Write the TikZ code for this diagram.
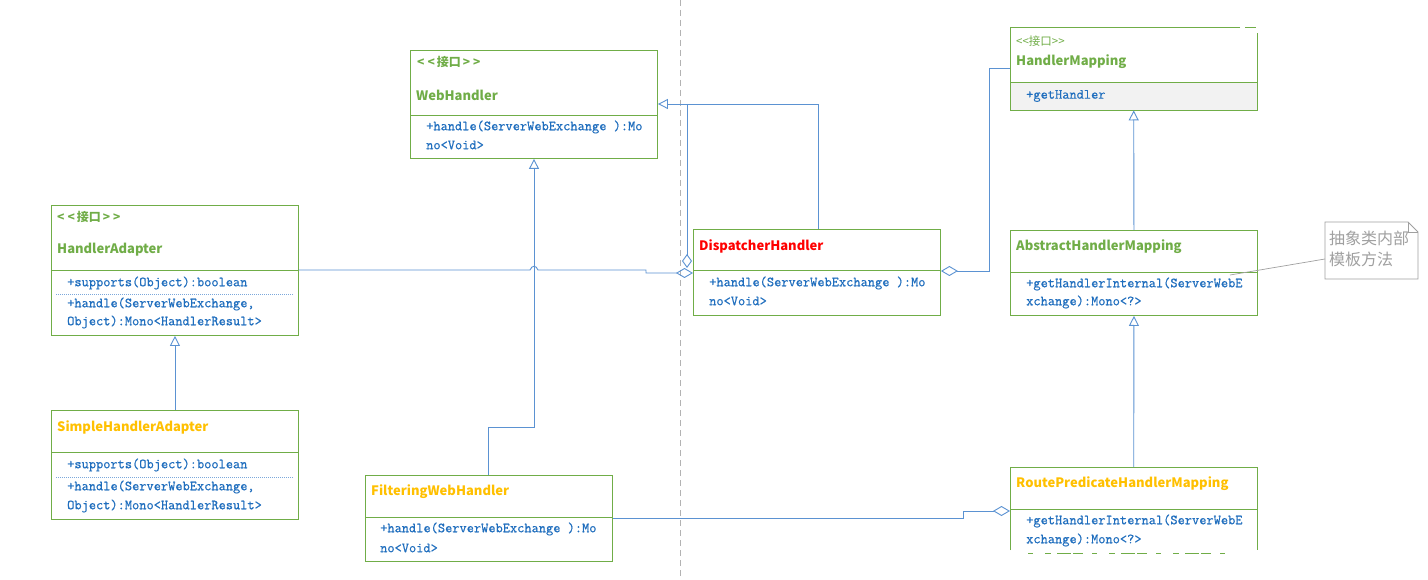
\documentclass[tikz,border=0pt]{standalone}
\usepackage{fontspec}
\newfontfamily\yh{Noto Sans CJK SC}
\newfontfamily\mymono{Latin Modern Mono}[FakeBold=0.6]
\usetikzlibrary{arrows.meta,calc}
\definecolor{gr}{RGB}{112,173,71}
\definecolor{org}{RGB}{255,192,0}
\definecolor{mblue}{RGB}{31,110,190}
\definecolor{cblue}{RGB}{91,146,210}
\definecolor{notegray}{RGB}{160,160,160}
\definecolor{fill2}{RGB}{242,242,242}
\begin{document}
\begin{tikzpicture}[x=1pt,y=-1pt,
  box/.style={draw=gr,line width=0.9pt,anchor=north west,inner sep=0pt},
  ghost/.style={anchor=north west,inner sep=0pt},
  stereo/.style={anchor=west,inner sep=0pt,text=gr,font=\yh\bfseries\fontsize{12}{12}\selectfont},
  ttl/.style={anchor=west,inner sep=0pt,font=\yh\bfseries\fontsize{13}{13}\selectfont},
  meth/.style={anchor=west,inner sep=0pt,text=mblue,font=\mymono\fontsize{14}{14}\selectfont},
  divider/.style={draw=gr,line width=0.9pt},
  dotsep/.style={draw=cblue!80,line width=0.5pt,dash pattern=on 1pt off 1pt},
  conn/.style={draw=cblue,line width=0.9pt},
  gen/.style={conn,-{Triangle[open,length=10pt,width=10pt]}},
  agg/.style={conn,{Diamond[open,length=17pt,width=10pt]}-}
]
\useasboundingbox (0,0) rectangle (1428,580);
\fill[white] (0,0) rectangle (1428,580);

% dashed separator
\draw[notegray!80,line width=0.8pt,dash pattern=on 6pt off 4pt] (680,0) -- (680,580);

% ---------- boxes ----------
\node[box,minimum width=247pt,minimum height=108pt] (wh) at (410,50) {};
\draw[divider] (410,115) -- (657,115);
\node[stereo] (whs) at (417,62) {<\hspace{3pt}<\hspace{2pt}接口\hspace{2pt}>\hspace{3pt}>};
\node[ttl,text=gr] (wht) at (416,95) {WebHandler};
\node[meth] (whm1) at (426,127) {+handle(ServerWebExchange ):Mo};
\node[meth] (whm2) at (426,145) {no<Void>};

% HandlerMapping
\node[ghost,minimum width=247pt,minimum height=83pt] (hm) at (1010,27) {};
\fill[fill2] (1010,82) rectangle (1257,110);
\draw[gr,line width=0.9pt] (1240,27) -- (1010,27) -- (1010,110) -- (1257,110) -- (1257,33);
\draw[gr,line width=0.9pt] (1245,27) -- (1256,27);
\draw[divider] (1010,82) -- (1257,82);
\node[anchor=west,inner sep=0pt,text=gr,font=\yh\fontsize{11.5}{12}\selectfont] (hms) at (1016,41) {<<接口>>};
\node[ttl,text=gr] (hmt) at (1016,62) {HandlerMapping};
\node[meth] (hmm) at (1026,96) {+getHandler};

% HandlerAdapter
\node[box,minimum width=247pt,minimum height=130pt] (ha) at (51,205) {};
\draw[divider] (51,270) -- (298,270);
\node[stereo] (has) at (57,217) {<\hspace{3pt}<\hspace{2pt}接口\hspace{2pt}>\hspace{3pt}>};
\node[ttl,text=gr] (hat) at (57,250) {HandlerAdapter};
\node[meth] (ham1) at (67,283) {+supports(Object):boolean};
\draw[dotsep] (56,294) -- (294,294);
\node[meth] (ham2) at (67,304) {+handle(ServerWebExchange,};
\node[meth] (ham3) at (67,322) {Object):Mono<HandlerResult>};

% SimpleHandlerAdapter
\node[box,minimum width=247pt,minimum height=109pt] (sha) at (51,410) {};
\draw[divider] (51,452) -- (298,452);
\node[ttl,text=org] (shat) at (57,427) {SimpleHandlerAdapter};
\node[meth] (sham1) at (67,465) {+supports(Object):boolean};
\draw[dotsep] (56,477) -- (294,477);
\node[meth] (sham2) at (67,487) {+handle(ServerWebExchange,};
\node[meth] (sham3) at (67,506) {Object):Mono<HandlerResult>};

% FilteringWebHandler
\node[box,minimum width=247pt,minimum height=86pt] (fwh) at (365,475) {};
\draw[divider] (365,517) -- (612,517);
\node[ttl,text=org] (fwht) at (371,492) {FilteringWebHandler};
\node[meth] (fwhm1) at (380,529) {+handle(ServerWebExchange ):Mo};
\node[meth] (fwhm2) at (380,548) {no<Void>};

% DispatcherHandler
\node[box,minimum width=247pt,minimum height=86pt] (dh) at (693,229) {};
\draw[divider] (693,270) -- (940,270);
\node[ttl,text=red] (dht) at (699,246) {DispatcherHandler};
\node[meth] (dhm1) at (709,283) {+handle(ServerWebExchange ):Mo};
\node[meth] (dhm2) at (709,301) {no<Void>};

% AbstractHandlerMapping
\node[box,minimum width=247pt,minimum height=85pt] (ahm) at (1010,230) {};
\draw[divider] (1010,272) -- (1257,272);
\node[ttl,text=gr] (ahmt) at (1016,247) {AbstractHandlerMapping};
\node[meth] (ahmm1) at (1026,284) {+getHandlerInternal(ServerWebE};
\node[meth] (ahmm2) at (1026,302) {xchange):Mono<?>};

% RoutePredicateHandlerMapping (cut off)
\node[ghost,minimum width=247pt,minimum height=83pt] (rp) at (1010,467) {};
\draw[gr,line width=0.9pt] (1010,550) -- (1010,467) -- (1257,467) -- (1257,550);
\draw[divider] (1010,509) -- (1257,509);
\node[ttl,text=org] (rpt) at (1016,484) {RoutePredicateHandlerMapping};
\node[meth] (rpm1) at (1026,521) {+getHandlerInternal(ServerWebE};
\node[meth] (rpm2) at (1026,540) {xchange):Mono<?>};
\draw[gr,line width=1pt,dash pattern=on 5pt off 12pt on 6pt off 6pt on 14pt off 2pt on 10pt off 9pt] (1028,553) -- (1235,553);

% note
\node[ghost,minimum width=93pt,minimum height=57pt] (note) at (1325,222) {};
\draw[notegray,line width=0.8pt] (1325,222) -- (1408,222) -- (1418,232) -- (1418,279) -- (1325,279) -- cycle;
\draw[notegray,line width=0.8pt] (1408,222) -- (1408,232) -- (1418,232);
\node[anchor=west,inner sep=0pt,text=notegray,font=\yh\fontsize{16}{16}\selectfont] (n1) at (1329,238) {抽象类内部};
\node[anchor=west,inner sep=0pt,text=notegray,font=\yh\fontsize{16}{16}\selectfont] (n2) at (1329,259) {模板方法};
\draw[notegray,line width=0.7pt] (note.west |- 0,259) -- (1230,275);

% ---------- connectors ----------
\draw[gen] (sha.north) -- (ha.south);
\draw[gen] ($(fwh.north west)+(123,0)$) -- (488,427) -- (534,427) -- (wh.south -| 534,0);
\draw[gen] ($(dh.north west)+(125,0)$) -- (818,104) -- (wh.east |- 0,104);
\draw[conn,-{Diamond[open,length=14pt,width=10pt]}] (687,104) -- (687,268);
\draw[conn,-{Diamond[open,length=17pt,width=10pt]}] (ha.east |- 0,270) -- (530,270) .. controls (532,265) and (536,265) .. (538,270) -- (646,270) -- (646,273) -- (dh.west |- 0,273);
\draw[agg] (dh.east |- 0,271) -- (989,271) -- (989,68) -- (hm.west |- 0,68);
\draw[gen] (ahm.north) -- (hm.south);
\draw[gen] (rp.north) -- (ahm.south);
\draw[conn,-{Diamond[open,length=17pt,width=10pt]}] (fwh.east |- 0,518) -- (963,518) -- (963,511) -- (rp.west |- 0,511);
\end{tikzpicture}
\end{document}
